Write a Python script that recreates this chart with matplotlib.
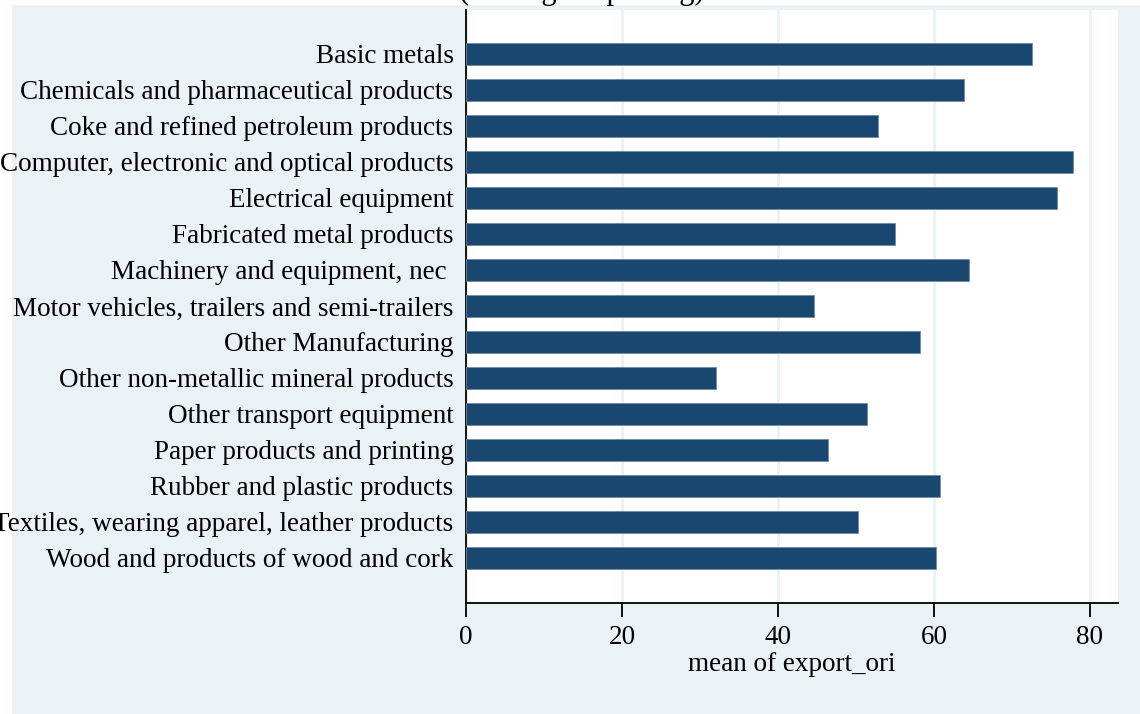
import numpy as np
import matplotlib
matplotlib.use("Agg")
import matplotlib.pyplot as plt
from matplotlib.patches import Rectangle

# industries, top to bottom
industries = [
    "Basic metals",
    "Chemicals and pharmaceutical products",
    "Coke and refined petroleum products",
    "Computer, electronic and optical products",
    "Electrical equipment",
    "Fabricated metal products",
    "Machinery and equipment, nec ",
    "Motor vehicles, trailers and semi-trailers",
    "Other Manufacturing",
    "Other non-metallic mineral products",
    "Other transport equipment",
    "Paper products and printing",
    "Rubber and plastic products",
    "Textiles, wearing apparel, leather products",
    "Wood and products of wood and cork",
]
export_ori = [72.6, 63.8, 52.8, 77.8, 75.8, 55.0, 64.5, 44.6,
              58.2, 32.1, 51.4, 46.4, 60.8, 50.3, 60.3]
xticks = [0, 20, 40, 60, 80]

navy = "#1a476f"
bg = "#eaf2f3"

plt.rcParams['font.family'] = ['Liberation Serif', 'DejaVu Serif']

fig = plt.figure(figsize=(11.4, 7.14), dpi=100)
fig.patch.set_facecolor("white")
# light outer region (image is a crop of a Stata graph)
fig.patches.append(Rectangle((12 / 1140, 0), 1, 1 - 5 / 714,
                             transform=fig.transFigure, facecolor=bg,
                             edgecolor="none", zorder=-10))

ax = fig.add_axes([466 / 1140, 1 - 603 / 714, (1118 - 466) / 1140, (603 - 10) / 714])
ax.set_facecolor("white")

pos = np.arange(len(industries))
ax.barh(pos, export_ori, height=0.61, color=navy, edgecolor="#6f8aa3",
        linewidth=0.6, zorder=3)

ax.set_xlim(0, 83.6)
ax.set_ylim(15.25, -1.22)
ax.set_yticks(pos)
ax.set_yticklabels(industries, fontsize=19.5)
ax.tick_params(axis="y", length=0, pad=9)
ax.set_xticks(xticks)
ax.tick_params(axis="x", length=10, width=1.3, labelsize=19.5, pad=6)
ax.grid(axis="x", color=bg, linewidth=2, zorder=0)
ax.set_axisbelow(True)
ax.set_xlabel("mean of export_ori", fontsize=19.5, labelpad=1)

for s in ["top", "right"]:
    ax.spines[s].set_visible(False)
ax.spines["left"].set_linewidth(1.3)
ax.spines["bottom"].set_linewidth(1.3)

fig.text(0.51, 1.012, "(Average exporting)", ha="center", va="center",
         fontsize=22)

fig.savefig("out.png", dpi=100)
